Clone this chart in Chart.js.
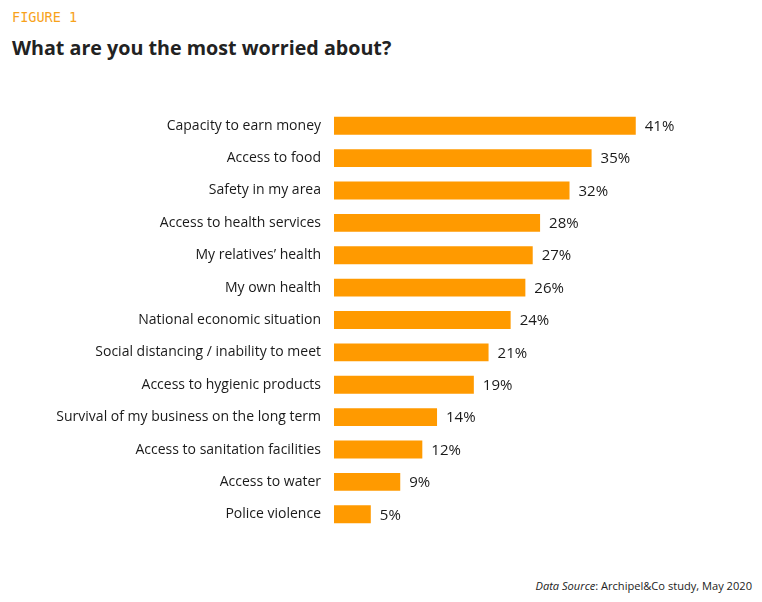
<!DOCTYPE html>
<html>
<head>
<meta charset="utf-8">
<script src="https://cdn.jsdelivr.net/npm/chart.js@4"></script>
<style>
  html, body { margin: 0; padding: 0; background: #fff; }
  body { width: 762px; height: 602px; position: relative; overflow: hidden; font-family: "Open Sans", sans-serif; }
  #fig { position: absolute; left: 12px; top: 9px; font: 13.5px "DejaVu Sans Mono", monospace; color: #F7A21B; }
  #title { position: absolute; left: 12px; top: 34px; font: bold 19.7px "Open Sans", sans-serif; color: #222; }
  #source { position: absolute; right: 10px; top: 578px; font: 11.1px "Open Sans", sans-serif; color: #222; }
  #wrap { position: absolute; left: 0; top: 0; width: 762px; height: 602px; }
</style>
</head>
<body>
<div id="fig">FIGURE 1</div>
<div id="title">What are you the most worried about?</div>
<div id="source"><i>Data Source</i>: Archipel&amp;Co study, May 2020</div>
<div id="wrap"><canvas id="worryChart"></canvas></div>
<script>
const categories = [
  'Capacity to earn money',
  'Access to food',
  'Safety in my area',
  'Access to health services',
  'My relatives\u2019 health',
  'My own health',
  'National economic situation',
  'Social distancing / inability to meet',
  'Access to hygienic products',
  'Survival of my business on the long term',
  'Access to sanitation facilities',
  'Access to water',
  'Police violence'
];
const shares = [41, 35, 32, 28, 27, 26, 24, 21, 19, 14, 12, 9, 5];

// value labels at the end of each bar
const valueLabels = {
  id: 'valueLabels',
  afterDatasetsDraw(chart) {
    const c = chart.ctx;
    const meta = chart.getDatasetMeta(0);
    c.save();
    c.font = '15px "Open Sans", sans-serif';
    c.fillStyle = '#1a1a1a';
    c.textBaseline = 'middle';
    meta.data.forEach((bar, i) => {
      c.fillText(shares[i] + '%', bar.x + 9, bar.y + 1);
    });
    c.restore();
  }
};

const ctx = document.getElementById('worryChart').getContext('2d');
const chart = new Chart(ctx, {
  type: 'bar',
  data: {
    labels: categories,
    datasets: [{
      data: shares,
      backgroundColor: '#FF9A00',
      borderWidth: 0,
      barPercentage: 0.85,
      categoryPercentage: 0.65
    }]
  },
  options: {
    indexAxis: 'y',
    responsive: true,
    maintainAspectRatio: false,
    animation: false,
    layout: { padding: { top: 109.5, bottom: 71.5, left: 0, right: 60 } },
    plugins: {
      legend: { display: false },
      tooltip: { enabled: false }
    },
    scales: {
      x: { display: false, min: 0, max: 50 },
      y: {
        afterFit: s => { s.width = 334; },
        grid: { display: false },
        border: { display: false },
        ticks: {
          padding: 5,
          color: '#1a1a1a',
          font: { family: 'Open Sans', size: 14 }
        }
      }
    }
  },
  plugins: [valueLabels]
});
</script>
</body>
</html>
